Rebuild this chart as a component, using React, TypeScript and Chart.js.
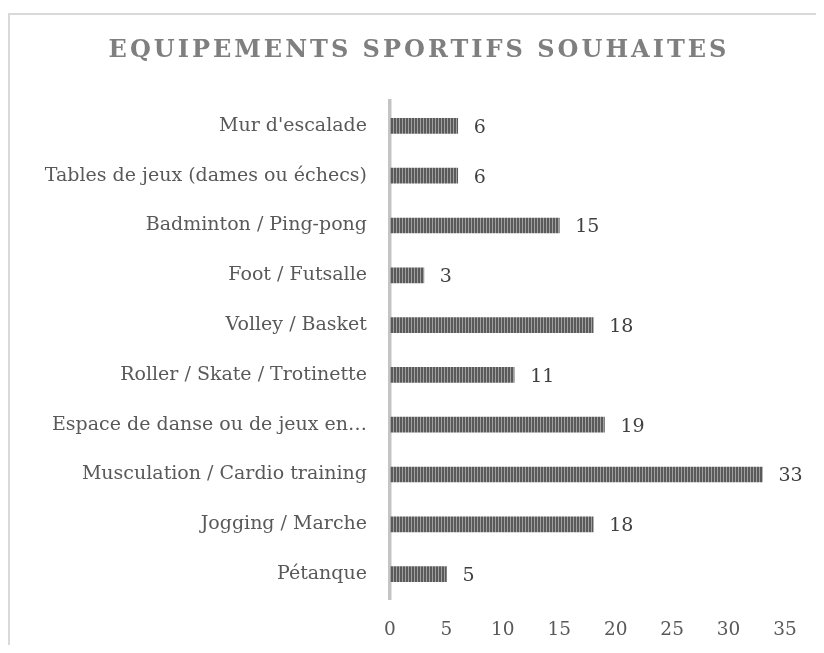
import React, { useEffect, useRef } from "react";
import { Chart, registerables } from "chart.js";

Chart.register(...registerables);

const TITLE = "EQUIPEMENTS SPORTIFS SOUHAITES";
const categories = [
  "Mur d'escalade",
  "Tables de jeux (dames ou échecs)",
  "Badminton / Ping-pong",
  "Foot / Futsalle",
  "Volley / Basket",
  "Roller / Skate / Trotinette",
  "Espace de danse ou de jeux en…",
  "Musculation / Cardio training",
  "Jogging / Marche",
  "Pétanque",
];
const values = [6, 6, 15, 3, 18, 11, 19, 33, 18, 5];
const xMin = 0;
const xMax = 35;
const xStep = 5;

const FONT = "'DejaVu Serif', serif";

export default function App() {
  const ref = useRef<HTMLCanvasElement>(null);
  useEffect(() => {
    document.body.style.overflow = "hidden";
    const canvas = ref.current!;
    const pc = document.createElement("canvas");
    pc.width = 3;
    pc.height = 1;
    const pctx = pc.getContext("2d")!;
    pctx.fillStyle = "#5a5a5a";
    pctx.fillRect(0, 0, 2, 1);
    pctx.fillStyle = "#a0a0a0";
    pctx.fillRect(2, 0, 1, 1);
    const pattern = canvas.getContext("2d")!.createPattern(pc, "repeat")!;

    const titlePlugin = {
      id: "spacedTitle",
      afterDraw(chart: any) {
        const ctx = chart.ctx;
        ctx.save();
        (ctx as any).letterSpacing = "3px";
        ctx.font = `bold 24px ${FONT}`;
        ctx.fillStyle = "#7f7f7f";
        ctx.textAlign = "center";
        ctx.textBaseline = "middle";
        ctx.fillText(TITLE, chart.width / 2 + 2, 36);
        ctx.restore();
      },
    };
    const valuePlugin = {
      id: "valueLabels",
      afterDatasetsDraw(chart: any) {
        const ctx = chart.ctx;
        const meta = chart.getDatasetMeta(0);
        ctx.save();
        ctx.font = `19px ${FONT}`;
        ctx.fillStyle = "#404040";
        ctx.textAlign = "left";
        ctx.textBaseline = "middle";
        meta.data.forEach((bar: any, i: number) => {
          ctx.fillText(String(values[i]), bar.x + 16, bar.y + 2);
        });
        ctx.restore();
      },
    };

    const chart = new Chart(canvas, {
      type: "bar",
      data: {
        labels: categories,
        datasets: [
          {
            data: values,
            backgroundColor: pattern,
            borderWidth: 0,
            barThickness: 15,
          },
        ],
      },
      options: {
        indexAxis: "y",
        responsive: false,
        animation: false,
        devicePixelRatio: 1,
        layout: { padding: { top: 86, right: 39, left: 0, bottom: 0 } },
        plugins: {
          legend: { display: false },
          title: { display: false },
          tooltip: { enabled: false },
        },
        scales: {
          x: {
            min: xMin,
            max: xMax,
            grid: { display: false, drawTicks: false },
            border: { display: false },
            ticks: {
              stepSize: xStep,
              color: "#595959",
              font: { family: FONT, size: 18.5 },
              padding: 20,
            },
            afterFit(scale: any) {
              scale.height = 54;
            },
          },
          y: {
            grid: { display: false, drawTicks: false },
            border: { display: true, color: "#c4c4c4", width: 3.5 },
            ticks: {
              color: "#595959",
              font: { family: FONT, size: 19 },
              padding: 23,
            },
            afterFit(scale: any) {
              scale.width = 380;
            },
          },
        },
      },
      plugins: [titlePlugin, valuePlugin],
    });
    return () => chart.destroy();
  }, []);

  return (
    <div
      style={{
        width: 816,
        height: 637,
        overflow: "hidden",
        paddingTop: 5,
        boxSizing: "border-box",
      }}
    >
      <div
        style={{
          border: "2px solid #d9d9d9",
          width: 900,
          height: 700,
          boxSizing: "border-box",
        }}
      >
        <canvas ref={ref} width={814} height={638} style={{ display: "block" }} />
      </div>
    </div>
  );
}
